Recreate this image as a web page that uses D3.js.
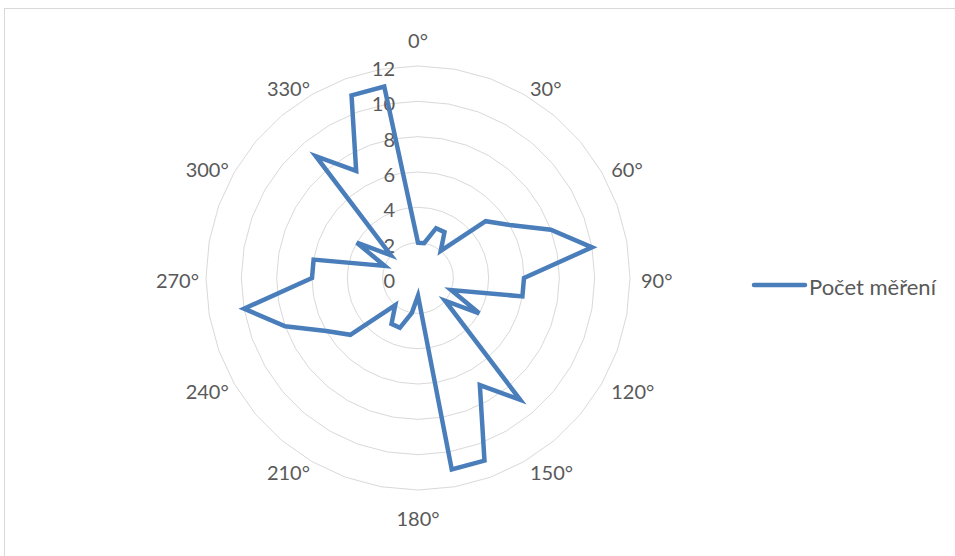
<!DOCTYPE html>
<html>
<head>
<meta charset="utf-8">
<script src="https://cdn.jsdelivr.net/npm/d3@7/dist/d3.min.js"></script>
<style>
  body { margin: 0; background: #fff; }
  svg { display: block; }
  text { font-family: Lato, "Open Sans", sans-serif; fill: #595959; }
</style>
</head>
<body>
<svg id="chart" width="955" height="556"></svg>
<script>
// Measurement directions (degrees) and number of measurements per direction
const directions = [0, 10, 20, 30, 40, 50, 60, 70, 80, 90, 100, 110,
                    120, 130, 140, 150, 160, 170, 180, 190, 200, 210, 220, 230,
                    240, 250, 260, 270, 280, 290, 300, 310, 320, 330, 340, 350];
const counts = [2, 2, 3, 3, 2, 5, 6, 8, 10, 6, 6, 2,
                4, 2, 9, 7, 11, 11, 1, 2, 3, 3, 2, 5,
                6, 8, 10, 6, 6, 2, 4, 2, 9, 7, 11, 11];
const directionLabels = ["0°", "30°", "60°", "90°", "120°", "150°",
                         "180°", "210°", "240°", "270°", "300°", "330°"];
const labelAngles = [0, 30, 60, 90, 120, 150, 180, 210, 240, 270, 300, 330];
const valueTicks = [0, 2, 4, 6, 8, 10, 12];
const seriesName = "Počet měření";

const W = 955, H = 556;
const cx = 418, cy = 278, R = 212;
const blue = "#4a7ebb";

const svg = d3.select("#chart");

// chart area frame
svg.append("rect")
  .attr("x", 4.5).attr("y", 8.5)
  .attr("width", W + 10).attr("height", H + 10)
  .attr("fill", "#fff").attr("stroke", "#d9d9d9").attr("stroke-width", 1);

const r = d3.scaleLinear().domain([0, 12]).range([0, R]);
const ang = d3.scaleLinear().domain([0, 360]).range([0, 2 * Math.PI]);

const g = svg.append("g").attr("transform", `translate(${cx},${cy})`);

// concentric polygon gridlines
const ringLine = d3.lineRadial().curve(d3.curveLinearClosed);
g.append("g").selectAll("path")
  .data(valueTicks.filter(v => v > 0))
  .join("path")
  .attr("d", v => ringLine(directions.map(d => [ang(d), r(v)])))
  .attr("fill", "none")
  .attr("stroke", "#d9d9d9")
  .attr("stroke-width", 1);

// value axis labels
g.append("g").selectAll("text")
  .data(valueTicks)
  .join("text")
  .attr("x", -23)
  .attr("y", v => -r(v) + 2)
  .attr("text-anchor", "end")
  .attr("dominant-baseline", "central")
  .attr("font-size", 20)
  .text(v => v);

// direction labels
const labelR = 222;
g.append("g").selectAll("text")
  .data(labelAngles)
  .join("text")
  .each(function (a, i) {
    const t = d3.select(this);
    const s = Math.sin(ang(a)), c = Math.cos(ang(a));
    let x = labelR * s, y = -labelR * c + 2, anchor = "middle";
    if (a === 0) y = -labelR - 16;
    else if (a === 180) y = labelR + 18;
    else if (a < 180) { anchor = "start"; x += 1; }
    else { anchor = "end"; x += 3; }
    t.attr("x", x).attr("y", y)
      .attr("text-anchor", anchor)
      .attr("dominant-baseline", "central")
      .attr("font-size", 20)
      .text(directionLabels[i]);
  });

// data series
const seriesLine = d3.lineRadial()
  .angle(d => ang(d.dir))
  .radius(d => r(d.n))
  .curve(d3.curveLinearClosed);
g.append("path")
  .datum(directions.map((d, i) => ({ dir: d, n: counts[i] })))
  .attr("d", seriesLine)
  .attr("fill", "none")
  .attr("stroke", blue)
  .attr("stroke-width", 4.5)
  .attr("stroke-linejoin", "miter")
  .attr("stroke-miterlimit", 4);

// legend
const lg = svg.append("g").attr("transform", "translate(752,285)");
lg.append("line")
  .attr("x1", 2).attr("x2", 53).attr("y1", 0).attr("y2", 0)
  .attr("stroke", blue).attr("stroke-width", 4.5).attr("stroke-linecap", "round");
lg.append("text")
  .attr("x", 57).attr("y", 1)
  .attr("dominant-baseline", "central")
  .attr("font-size", 22)
  .text(seriesName);
</script>
</body>
</html>
